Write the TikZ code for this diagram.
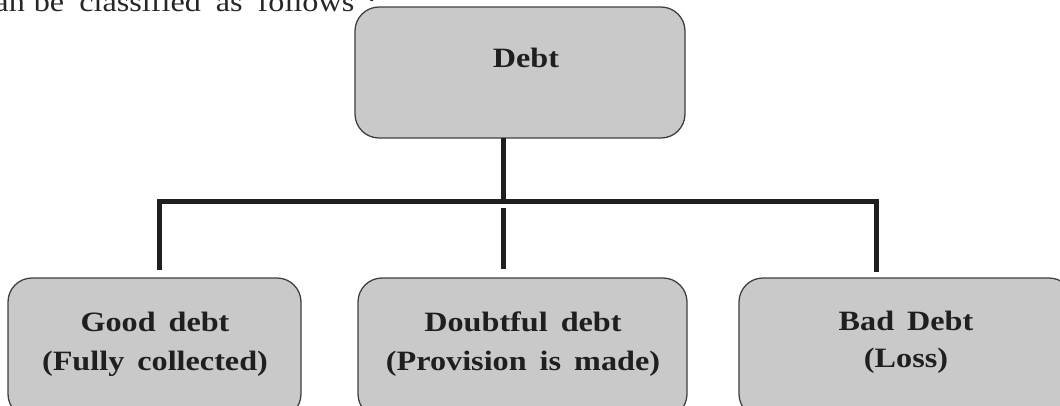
\documentclass[tikz,border=0pt]{standalone}
\usepackage{fontspec}
\setmainfont{Liberation Serif}[FakeStretch=1.15]
\newcommand\mylblfont{\fontsize{28}{39}\selectfont\bfseries\spaceskip 13pt\relax}
\newcommand\mybadfont{\fontsize{28}{37}\selectfont\bfseries\spaceskip 13pt\relax}
\begin{document}
\begin{tikzpicture}[x=1pt,y=-1pt,
  box/.style={draw=black!75,line width=1.3pt,fill=black!21,rounded corners=24pt,inner sep=0pt},
  lbl/.style={font=\mylblfont,align=center,text=black!88,inner sep=0pt},
  bar/.style={line width=5pt,draw=black!88}]
\useasboundingbox (0,0) rectangle (1060,405);
\clip (0,0) rectangle (1060,405);
% intro text (cut off at top)
\node[anchor=base west,inner sep=0pt,font=\fontsize{28}{34}\selectfont,text=black!85] (intro) at (-20,11)
  {can\hspace{9pt}be\hspace{15pt}classified\hspace{15pt}as\hspace{15pt}follows\hspace{13pt}:};
% boxes
\node[box,minimum width=330pt,minimum height=131pt] (debt) at (520,72.5) {};
\node[box,minimum width=293pt,minimum height=140pt] (good) at (154.5,348) {};
\node[box,minimum width=329pt,minimum height=140pt] (doubt) at (522.5,348) {};
\node[box,minimum width=334pt,minimum height=140pt] (bad) at (906,348) {};
% labels
\node[lbl,anchor=base] (debtlbl) at (526,67) {Debt};
\node[lbl,anchor=base] (goodlbl) at (155,370) {Good debt\\(Fully collected)};
\node[lbl,anchor=base] (doubtlbl) at (523,370) {Doubtful debt\\(Provision is made)};
\node[lbl,anchor=base,font=\mybadfont] (badlbl) at (906,367) {Bad Debt\\(Loss)};
% connectors
\coordinate (top) at (503,138);
\coordinate (junc) at (503,201);
\coordinate (gl) at (159,270);
\coordinate (dl) at (503,269);
\coordinate (dtop) at (503,208);
\coordinate (bl) at (876,272);
\draw[bar] (top) -- (junc);
\draw[bar,line join=miter] (gl) |- (junc) -| (bl);
\draw[bar] (dtop) -- (dl);
\end{tikzpicture}
\end{document}
